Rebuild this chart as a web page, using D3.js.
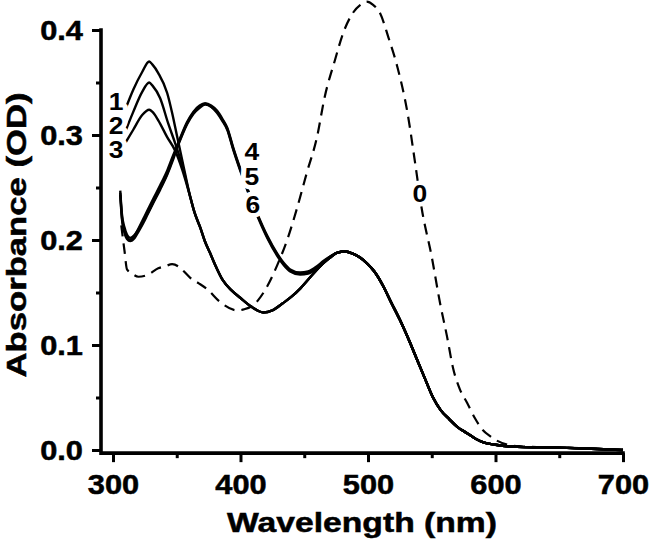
<!DOCTYPE html>
<html>
<head>
<meta charset="utf-8">
<script src="https://cdn.jsdelivr.net/npm/d3@7"></script>
<style>
  html, body { margin: 0; padding: 0; background: #fff; }
  svg { display: block; }
  text { font-family: "Liberation Sans", Arial, sans-serif; font-weight: bold; fill: #000; }
</style>
</head>
<body>
<svg id="chart" width="650" height="542"></svg>
<script>
// ---------- DATA ----------
const xTicks = [300, 400, 500, 600, 700];
const xMinorTicks = [350, 450, 550, 650];
const yTicks = [0.0, 0.1, 0.2, 0.3, 0.4];
const yMinorTicks = [0.05, 0.15, 0.25, 0.35];
const xTitle = "Wavelength (nm)";
const yTitle = "Absorbance (OD)";

// curve 0 (dashed) : [wavelength nm, absorbance OD]
const curve0 = [
  [306.5,0.214],[309,0.190],[311,0.172],[315,0.168],[320,0.165],[327.6,0.167],
  [335.5,0.173],[341,0.175],[346.4,0.177],[351,0.175],[354,0.172],[360.6,0.164],
  [367,0.159],[374,0.153],[384,0.141],[397.4,0.133],[403,0.134],[410,0.138],
  [414,0.143],[421,0.156],[429.5,0.178],[436.6,0.200],[444.5,0.231],[452,0.264],
  [460,0.298],[466,0.336],[474,0.371],[480.5,0.397],[488,0.416],[494,0.424],
  [499,0.427],[504,0.424],[509.5,0.416],[516,0.393],[523,0.365],[531,0.321],
  [537,0.273],[542,0.231],[550,0.184],[556.5,0.140],[562,0.108],[566.7,0.078],
  [572,0.058],[577.7,0.045],[584,0.030],[590,0.019],[596,0.013],[601,0.009],
  [610,0.005],[620,0.0035],[640,0.0025],[660,0.002],[680,0.001],[700,0.0]
];

// curves 1-3: distinct UV part
const curve1UV = [
  [309.6,0.324],[315.9,0.343],[322.9,0.360],[328.4,0.370],[331,0.367],[335.5,0.359],
  [342.5,0.340],[346.4,0.321],[350.4,0.298],[354.3,0.276]
];
const curve2UV = [
  [309.6,0.303],[315.9,0.322],[322.9,0.341],[328.4,0.350],[331,0.347],[337,0.335],
  [343.3,0.311],[348.8,0.292],[354.3,0.271]
];
const curve3UV = [
  [310,0.293],[315.9,0.305],[322.9,0.319],[328.4,0.324],[331,0.322],[335.5,0.314],
  [342.5,0.298],[348.8,0.285],[354.3,0.267]
];
// curves 1-3 after they merge
const curves123Mid = [
  [360.6,0.241],[364,0.226],[368.4,0.212],[372,0.199],[376,0.188],[381,0.174],
  [386,0.162],[393,0.152],[399.8,0.145],[408,0.137],[417.8,0.131],[425,0.133],
  [433.5,0.140],[440,0.146],[447,0.154],[455,0.165],[465,0.178],[470,0.183]
];

// curves 4-6
const curve4 = [
  [305.7,0.247],[307,0.225],[309,0.212],[311,0.205],[313.5,0.202],[317,0.205],
  [320,0.210],[323.7,0.218],[327,0.225],[331.5,0.236],[337,0.249],[342.5,0.263],
  [347,0.278],[350.4,0.289],[354,0.300],[358,0.311],[363,0.321],[368,0.327],
  [372.3,0.330],[377,0.327],[381.7,0.322],[386,0.314],[389.6,0.306],[394.3,0.287],
  [399.8,0.267],[407,0.243],[413.9,0.222],[421,0.203],[428.8,0.186],[434,0.177],
  [439,0.171],[446.8,0.168],[453,0.169],[460,0.174],[465,0.179],[470,0.184]
];
const curve5 = [
  [305.7,0.245],[307,0.222],[309,0.209],[311,0.202],[313.5,0.200],[317,0.204],
  [320,0.211],[323.7,0.220],[327,0.228],[331.5,0.239],[337,0.252],[342.5,0.266],
  [347,0.280],[350.4,0.290],[354,0.301],[358,0.312],[363,0.322],[368,0.328],
  [372.3,0.330],[377,0.328],[381.7,0.323],[386,0.315],[389.6,0.307],[394.3,0.288],
  [399.8,0.268],[407,0.244],[413.9,0.223],[421,0.204],[428.8,0.187],[434,0.178],
  [439,0.172],[446.8,0.169],[453,0.170],[460,0.175],[465,0.180],[470,0.184]
];
const curve6 = [
  [305.7,0.243],[307,0.220],[309,0.207],[311,0.201],[313.5,0.199],[317,0.202],
  [320,0.208],[323.7,0.216],[327,0.224],[331.5,0.235],[337,0.248],[342.5,0.262],
  [347,0.276],[350.4,0.288],[354,0.299],[358,0.310],[363,0.320],[368,0.326],
  [372.3,0.329],[377,0.327],[381.7,0.321],[386,0.313],[389.6,0.305],[394.3,0.286],
  [399.8,0.266],[407,0.242],[413.9,0.221],[421,0.202],[428.8,0.185],[434,0.176],
  [439,0.170],[446.8,0.167],[453,0.168],[460,0.173],[465,0.178],[470,0.183]
];

// long-wavelength band shared by all solid curves
const solidTail = [
  [476,0.188],[482,0.189],[488,0.187],[494,0.183],[499,0.178],[505,0.170],
  [512,0.156],[518,0.141],[525,0.124],[532,0.105],[538.5,0.086],[545,0.067],
  [551,0.050],[557,0.038],[564,0.029],[570,0.022],[577.7,0.016],[584,0.011],
  [590,0.0076],[600,0.005],[617,0.003],[636,0.0025],[656,0.002],[680,0.001],[700,0.0]
];

// curve label names and the data point each one sits at
const labelNames = ["0", "1", "2", "3", "4", "5", "6"];
const labelAnchors = [[540.7,0.244],[302.4,0.332],[302.4,0.309],[302.4,0.286],
                      [409,0.284],[409,0.260],[409.8,0.234]];

// ---------- CHART ----------
const svg = d3.select("#chart");
const xMin = 290.6, yMin = -0.003;
const x = d3.scaleLinear().domain([xMin, 700]).range([101, 623]);
const y = d3.scaleLinear().domain([yMin, 0.4]).range([453.15, 30]);

// widen glyphs horizontally (reference type is wide and heavy)
function stretch(sel, factor) {
  sel.each(function () {
    const len = this.getComputedTextLength();
    d3.select(this).attr("textLength", len * factor).attr("lengthAdjust", "spacingAndGlyphs");
  });
}

const line = d3.line()
  .x(d => x(d[0]))
  .y(d => y(d[1]))
  .curve(d3.curveMonotoneX);

const solidSeries = [
  curve1UV.concat(curves123Mid, solidTail),
  curve2UV.concat(curves123Mid, solidTail),
  curve3UV.concat(curves123Mid, solidTail),
  curve4.concat(solidTail),
  curve5.concat(solidTail),
  curve6.concat(solidTail)
];

const plot = svg.append("g");

plot.append("path")
  .datum(curve0)
  .attr("d", line)
  .style("fill", "none")
  .style("stroke", "#000")
  .style("stroke-width", "2.2px")
  .style("stroke-dasharray", "11,7");

plot.selectAll("path.solid")
  .data(solidSeries)
  .enter().append("path")
  .attr("class", "solid")
  .attr("d", line)
  .style("fill", "none")
  .style("stroke", "#000")
  .style("stroke-width", "2.4px")
  .style("stroke-linejoin", "round");

// curve labels
const clabels = plot.selectAll("text.clabel")
  .data(labelNames)
  .enter().append("text")
  .attr("class", "clabel")
  .attr("x", (d, i) => x(labelAnchors[i][0]))
  .attr("y", (d, i) => y(labelAnchors[i][1]))
  .attr("text-anchor", "middle")
  .attr("dy", "0.36em")
  .style("font-size", "23px")
  .style("paint-order", "stroke")
  .style("stroke", "#fff")
  .style("stroke-width", "9px")
  .style("stroke-linejoin", "round")
  .text(d => d);
stretch(clabels, 1.15);

// axes
const xAxis = svg.append("g").attr("transform", `translate(0,${y(yMin)})`)
  .call(d3.axisBottom(x).tickValues(xTicks).tickSize(9).tickSizeOuter(0).tickPadding(13)
        .tickFormat(d3.format("d")));
const xMinor = svg.append("g").attr("transform", `translate(0,${y(yMin)})`)
  .call(d3.axisBottom(x).tickValues(xMinorTicks).tickSize(5).tickSizeOuter(0).tickFormat(""));
const yAxis = svg.append("g").attr("transform", `translate(${x(xMin)},0)`)
  .call(d3.axisLeft(y).tickValues(yTicks).tickSize(9).tickSizeOuter(0).tickPadding(9)
        .tickFormat(d3.format(".1f")));
const yMinor = svg.append("g").attr("transform", `translate(${x(xMin)},0)`)
  .call(d3.axisLeft(y).tickValues(yMinorTicks).tickSize(5).tickSizeOuter(0).tickFormat(""));

[xAxis, xMinor, yAxis, yMinor].forEach(g => {
  g.selectAll(".domain").remove();
  g.selectAll(".tick line")
    .attr("stroke", "#000").attr("stroke-width", 3)
    .style("stroke", "#000").style("stroke-width", "3px");
  g.selectAll(".tick text")
    .attr("font-family", null).attr("font-size", null)
    .style("font-size", "27px")
    .style("stroke", "#000").style("stroke-width", "0.5px");
});
yAxis.selectAll(".tick text").attr("dy", "0.34em");
stretch(xAxis.selectAll(".tick text"), 1.14);
stretch(yAxis.selectAll(".tick text"), 1.14);

// explicit heavy axis lines
svg.append("path")
  .attr("d", `M${x(xMin)},${y(0.4)}V${y(yMin)}H${x(700)}`)
  .attr("fill", "none")
  .attr("stroke", "#000")
  .attr("stroke-width", 3.6)
  .attr("stroke-linecap", "square")
  .attr("stroke-linejoin", "miter");

// axis titles
const xt = svg.append("text")
  .attr("x", 362).attr("y", 532)
  .attr("text-anchor", "middle")
  .style("font-size", "28px")
  .style("stroke", "#000").style("stroke-width", "0.5px")
  .text(xTitle);
xt.attr("textLength", 270).attr("lengthAdjust", "spacingAndGlyphs");

const yt = svg.append("text")
  .attr("transform", "translate(26,235) rotate(-90)")
  .attr("text-anchor", "middle")
  .style("font-size", "28px")
  .style("stroke", "#000").style("stroke-width", "0.5px")
  .text(yTitle);
yt.attr("textLength", 285).attr("lengthAdjust", "spacingAndGlyphs");
</script>
</body>
</html>
